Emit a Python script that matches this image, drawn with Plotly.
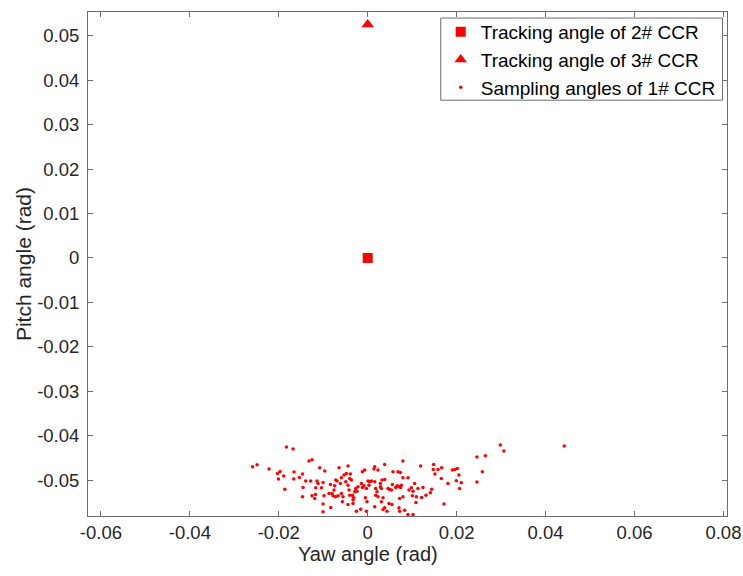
import plotly.graph_objects as go

# Tracking angles
ccr2_yaw = [0.0]
ccr2_pitch = [0.0]
ccr3_yaw = [0.0]
ccr3_pitch = [0.0525]

# Sampling angles of 1# CCR (rad)
sample_yaw = [
    -0.02591, -0.02488, -0.02218, -0.01827, -0.01679, -0.02029, -0.01971, -0.02007, -0.01888, -0.01865,
    -0.01656, -0.01663, -0.01535, -0.01319, -0.01252, -0.01079, -0.00966, -0.01467, -0.01393, -0.01454,
    -0.01467, -0.01281, -0.01169, -0.01139, -0.01117, -0.01040, -0.01004, -0.01252, -0.01191, -0.01175,
    -0.00982, -0.01004, -0.01004, -0.00838, -0.00802, -0.00831, -0.00780, -0.00757, -0.00719, -0.00690,
    -0.00726, -0.00645, -0.00591, -0.00613, -0.00667, -0.00591, -0.00555, -0.00533, -0.00569, -0.00479,
    -0.00443, -0.00494, -0.00443, -0.00404, -0.00366, -0.00420, -0.00404, -0.00344, -0.00315, -0.00330,
    -0.00443, -0.00330, -0.00270, -0.00240, -0.00292, -0.00218, -0.00254, -0.00389, -0.00742, -0.00870,
    -0.00119, -0.00067, 0.00157, 0.00142, 0.00231, 0.00382, 0.00793, -0.00142, -0.00083, -0.00119,
    0.00007, 0.00045, 0.00083, 0.00029, -0.00029, -0.00052, -0.00016, -0.00157, -0.00029, 0.00157,
    0.00180, 0.00209, 0.00180, 0.00231, 0.00285, 0.00285, 0.00308, 0.00321, 0.00382, 0.00344,
    0.00308, 0.00157, 0.00382, 0.00344, 0.00434, 0.00456, 0.00494, 0.00533, 0.00555, 0.00569,
    0.00681, 0.00735, 0.00629, 0.00667, 0.00703, 0.00742, 0.00757, 0.00793, 0.00793, 0.00719,
    0.00906, 0.00928, 0.00982, 0.01018, 0.01056, 0.01004, 0.01094, 0.01130, 0.00546, 0.00703,
    0.00719, 0.00831, 0.00906, 0.01018, 0.00479, 0.01191, 0.01483, 0.01476, 0.01512, 0.01580,
    0.01663, 0.01656, 0.01804, 0.01903, 0.01962, 0.02016, 0.02052, 0.01993, 0.02106, 0.02067,
    0.02456, 0.02645, 0.02578, 0.02456, 0.01715, 0.01243, 0.01438, 0.01409, 0.01310, 0.01213,
    0.02982, 0.03063, 0.04420, 0.01085,
]
sample_pitch = [
    -0.04694, -0.04649, -0.04746, -0.04251, -0.04296, -0.04843, -0.04798, -0.04971, -0.04903, -0.05196,
    -0.04813, -0.04971, -0.04933, -0.04566, -0.04537, -0.04717, -0.04791, -0.04858, -0.05016, -0.05157,
    -0.05369, -0.05016, -0.05166, -0.05016, -0.05068, -0.05166, -0.05045, -0.05346, -0.05405, -0.05315,
    -0.05346, -0.05533, -0.05706, -0.05090, -0.05292, -0.05607, -0.05346, -0.05218, -0.04993, -0.05016,
    -0.05369, -0.04717, -0.04942, -0.05068, -0.05346, -0.05292, -0.05369, -0.04881, -0.05481, -0.04843,
    -0.04678, -0.05031, -0.05106, -0.04955, -0.04993, -0.05218, -0.05331, -0.05331, -0.05391, -0.05443,
    -0.05540, -0.05517, -0.05180, -0.05241, -0.05256, -0.05144, -0.05691, -0.04858, -0.05121, -0.05292,
    -0.04807, -0.04768, -0.04694, -0.04746, -0.04768, -0.04640, -0.04566, -0.05068, -0.05121, -0.05157,
    -0.05016, -0.05031, -0.05016, -0.05106, -0.05180, -0.05391, -0.05481, -0.05646, -0.05691, -0.05031,
    -0.05180, -0.05256, -0.05331, -0.05369, -0.05068, -0.05144, -0.05180, -0.04993, -0.04978, -0.05391,
    -0.05481, -0.05594, -0.05616, -0.05652, -0.05691, -0.05180, -0.05202, -0.05218, -0.05090, -0.04807,
    -0.04807, -0.04820, -0.05157, -0.05121, -0.05144, -0.05157, -0.05106, -0.04942, -0.05369, -0.05405,
    -0.04942, -0.05218, -0.05166, -0.05241, -0.05068, -0.05346, -0.05369, -0.05180, -0.05540, -0.05616,
    -0.05691, -0.05668, -0.05765, -0.05765, -0.05517, -0.04678, -0.04640, -0.04753, -0.04858, -0.04753,
    -0.04717, -0.04955, -0.05068, -0.04768, -0.04753, -0.04730, -0.04881, -0.05009, -0.05054, -0.05180,
    -0.04476, -0.04447, -0.04807, -0.05038, -0.05533, -0.05157, -0.05196, -0.05279, -0.05331, -0.05382,
    -0.04206, -0.04341, -0.04229, -0.05495,
]

x_ticks = [-0.06, -0.04, -0.02, 0, 0.02, 0.04, 0.06, 0.08]
x_tick_text = ["-0.06", "-0.04", "-0.02", "0", "0.02", "0.04", "0.06", "0.08"]
y_ticks = [-0.05, -0.04, -0.03, -0.02, -0.01, 0, 0.01, 0.02, 0.03, 0.04, 0.05]
y_tick_text = ["-0.05", "-0.04", "-0.03", "-0.02", "-0.01", "0", "0.01", "0.02", "0.03", "0.04", "0.05"]

RED = "#FF0000"
AX = "#6e6e6e"
TXT = "#262626"
FONT = "Liberation Sans, Arial, sans-serif"

fig = go.Figure()
fig.add_trace(go.Scatter(
    x=ccr2_yaw, y=ccr2_pitch, mode="markers", name="Tracking angle of 2# CCR",
    marker=dict(symbol="square", size=10, color=RED, line=dict(width=0)),
    legendgroup="a",
))
fig.add_trace(go.Scatter(
    x=ccr3_yaw, y=ccr3_pitch, mode="markers", name="Tracking angle of 3# CCR",
    marker=dict(symbol="triangle-up", size=11, color=RED, line=dict(width=0)),
    legendgroup="b",
))
fig.add_trace(go.Scatter(
    x=sample_yaw, y=sample_pitch, mode="markers", name="Sampling angles of 1# CCR",
    marker=dict(symbol="circle", size=3.5, color=RED, line=dict(width=0)),
    legendgroup="c",
))

axis_common = dict(
    showgrid=False, zeroline=False, showline=True, linecolor=AX, linewidth=1,
    mirror="ticks", ticks="inside", ticklen=5, tickcolor=AX, tickwidth=1,
    tickfont=dict(family=FONT, size=18.5, color=TXT), automargin=False,
)

fig.update_layout(
    template="none",
    width=743, height=576,
    margin=dict(l=88, r=16, t=12, b=60, pad=0),
    paper_bgcolor="white", plot_bgcolor="white",
    font=dict(family=FONT, color=TXT),
    xaxis=dict(
        range=[-0.0629, 0.0808], tickvals=x_ticks, ticktext=x_tick_text,
        ticklabelstandoff=0,
        **axis_common,
    ),
    yaxis=dict(
        range=[-0.058, 0.0553], tickvals=y_ticks, ticktext=y_tick_text,
        ticklabelstandoff=4,
        **axis_common,
    ),
    legend=dict(
        x=0.552, y=0.998, xanchor="left", yanchor="top",
        bgcolor="rgba(0,0,0,0)", borderwidth=0,
        font=dict(family=FONT, size=19, color="#000000"),
        traceorder="grouped", tracegroupgap=0,
    ),
    showlegend=True,
    shapes=[dict(
        type="rect", xref="paper", yref="paper",
        x0=0.552, x1=0.993, y0=0.825, y1=0.988,
        line=dict(color=AX, width=1), fillcolor="white", layer="below",
    )],
    annotations=[
        dict(text="Yaw angle (rad)", xref="paper", yref="paper", x=0.4375, y=-0.0754,
             xanchor="center", yanchor="middle", showarrow=False,
             font=dict(family=FONT, size=20, color=TXT)),
        dict(text="Pitch angle (rad)", xref="paper", yref="paper", x=-0.1016, y=0.5,
             xanchor="center", yanchor="middle", showarrow=False, textangle=-90,
             font=dict(family=FONT, size=21, color=TXT)),
    ],
)

fig.write_html("out.html")
